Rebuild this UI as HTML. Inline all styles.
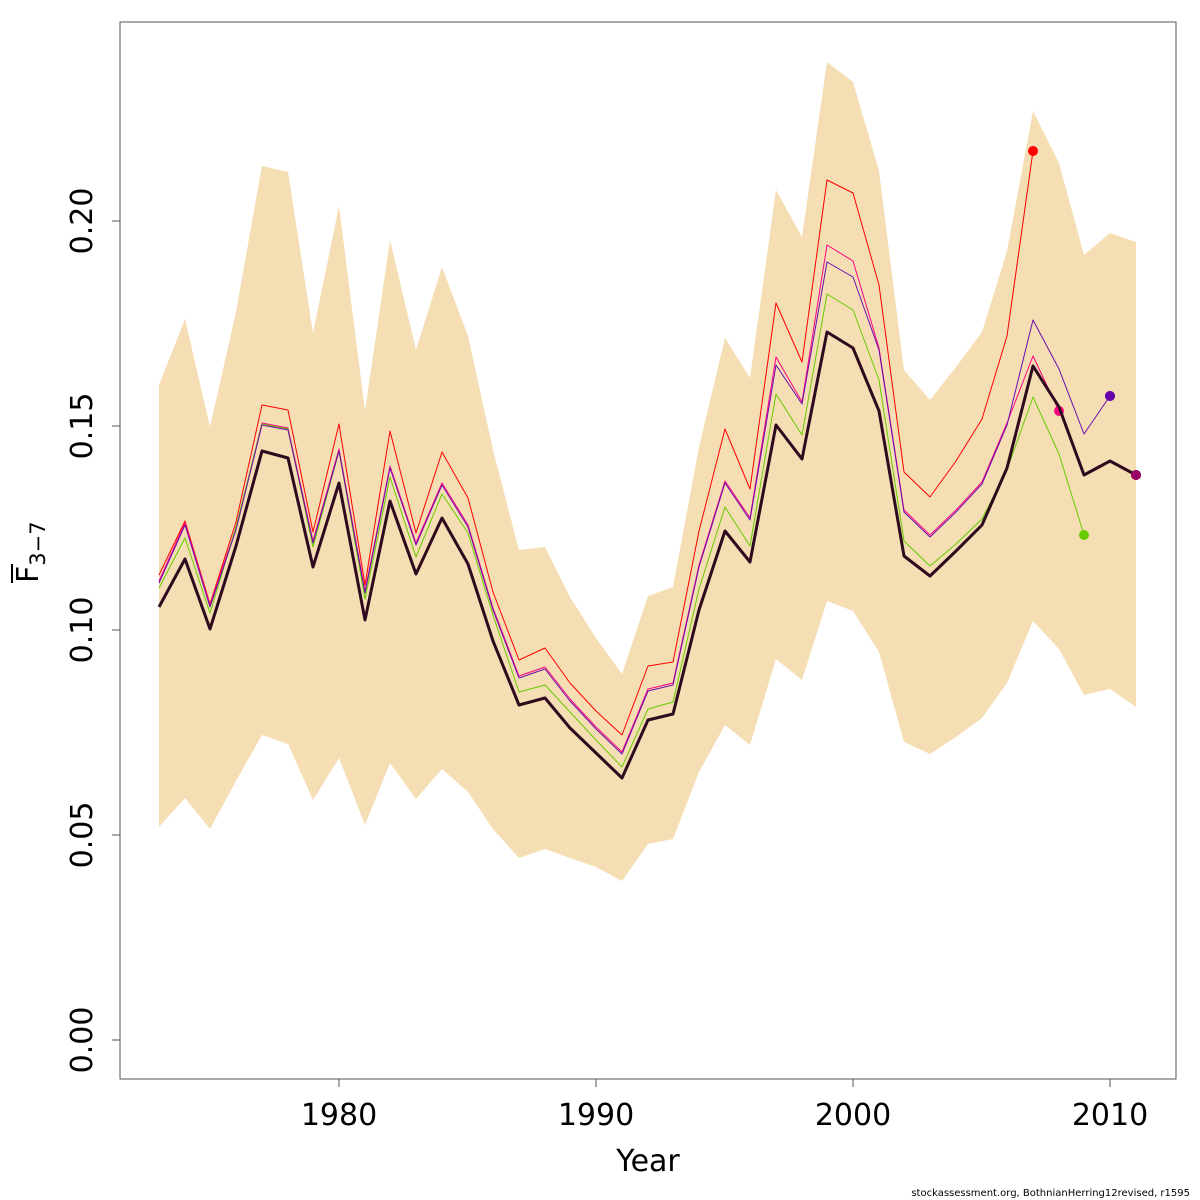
<!DOCTYPE html>
<html><head><meta charset="utf-8"><style>
html,body{margin:0;padding:0;background:#fff;}
svg{display:block;font-family:"DejaVu Sans","Liberation Sans",sans-serif;}
</style></head><body>
<svg id="s" width="1200" height="1200" viewBox="0 0 1200 1200" xmlns="http://www.w3.org/2000/svg">
<g id="g"></g>
<rect x="120" y="22" width="1056" height="1057" fill="none" stroke="#555" stroke-width="1"/>
<g stroke="#555" stroke-width="1">
<line x1="339" y1="1079" x2="339" y2="1087"/><line x1="596" y1="1079" x2="596" y2="1087"/>
<line x1="853" y1="1079" x2="853" y2="1087"/><line x1="1110" y1="1079" x2="1110" y2="1087"/>
<line x1="112" y1="1040" x2="120" y2="1040"/><line x1="112" y1="835" x2="120" y2="835"/>
<line x1="112" y1="630" x2="120" y2="630"/><line x1="112" y1="426" x2="120" y2="426"/>
<line x1="112" y1="221" x2="120" y2="221"/>
</g>
<g font-size="30" text-anchor="middle" fill="#000">
<text x="339" y="1125">1980</text><text x="596" y="1125">1990</text>
<text x="853" y="1125">2000</text><text x="1110" y="1125">2010</text>
<text transform="translate(92,1040) rotate(-90)">0.00</text>
<text transform="translate(92,835) rotate(-90)">0.05</text>
<text transform="translate(92,630) rotate(-90)">0.10</text>
<text transform="translate(92,426) rotate(-90)">0.15</text>
<text transform="translate(92,221) rotate(-90)">0.20</text>
<text x="648" y="1171">Year</text>
<text transform="translate(38,583) rotate(-90)" text-anchor="start">F<tspan font-size="21" dy="7">3−7</tspan></text>
</g>
<line x1="12" y1="583" x2="12" y2="564" stroke="#000" stroke-width="2"/>
<text x="1190" y="1196" font-size="10" text-anchor="end">stockassessment.org, BothnianHerring12revised, r1595</text>
</svg>
<script>
var X=[159,185,210,236,262,288,313,339,365,390,416,442,468,493,519,545,570,596,622,648,673,699,725,750,776,802,827,853,879,904,930,956,982,1007,1033,1059,1084,1110,1136];
var up=[385,319,427,312,166,172,333,206,411,240,350,267,336,450,550,547,597,638,674,596,587,447,338,378,190,237,62,82,171,370,400,367,332,251,111,163,255,233,242];
var lo=[827,798,829,781,735,744,800,758,825,763,799,769,792,829,858,849,858,867,881,844,839,772,725,745,659,680,601,611,652,742,754,737,718,683,621,649,695,689,707];
var blk=[607,559,629,546,451,458,567,483,620,501,574,518,564,641,705,698,728,753,778,720,714,610,531,562,425,459,332,348,411,556,576,551,525,468,366,407,475,461,475];
var red=[575,521,604,522,405,410,532,424,585,431,533,452,498,592,660,648,683,711,735,666,662,531,429,489,303,362,180,193,285,472,497,461,419,336,151];
var pur=[583,525,607,530,425,430,543,451,593,468,545,485,527,610,678,669,701,729,754,691,685,567,483,520,365,404,262,277,350,512,537,512,484,425,320,369,434,396];
var pink=pur.slice(0,34).map(function(v,i){return v-2;});pink[26]=245;pink[27]=261;pink[24]=357;pink.push(356,411);
var grn=[588,538,613,527,424,429,547,451,599,477,557,494,533,615,692,685,712,740,767,709,702,589,507,546,394,435,294,310,380,541,566,544,519,470,397,454,535];
var g=document.getElementById('g'),NS="http://www.w3.org/2000/svg";
function el(t,a){var e=document.createElementNS(NS,t);for(var k in a)e.setAttribute(k,a[k]);g.appendChild(e);}
var p=[];for(var i=0;i<X.length;i++)p.push(X[i]+","+up[i]);for(var i=X.length-1;i>=0;i--)p.push(X[i]+","+lo[i]);
el('polygon',{points:p.join(' '),fill:'#f5deb3'});
function line(a,c,w){var q=a.map(function(v,i){return X[i]+","+v;});el('polyline',{points:q.join(' '),fill:'none',stroke:c,'stroke-width':w,'stroke-linejoin':'round'});var n=a.length-1;el('circle',{cx:X[n],cy:a[n],r:5,fill:c});}
line(red,'#ff0000',1);line(pink,'#ff0080',1);line(grn,'#66cc00',1);line(pur,'#6a0dad',1);line(blk,'#2d0a1e',3);
el('circle',{cx:1136,cy:475,r:5,fill:'#990066'});
el('circle',{cx:1110,cy:396,r:5,fill:'#6600aa'});
</script>
</body></html>
